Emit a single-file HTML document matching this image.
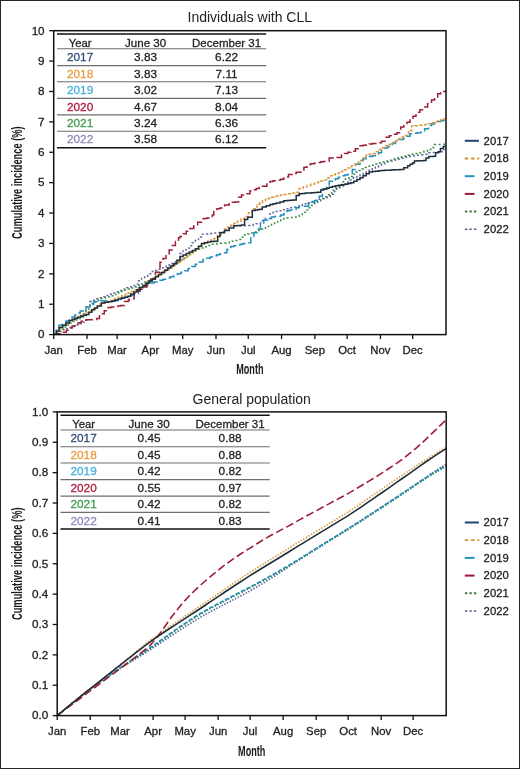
<!DOCTYPE html>
<html><head><meta charset="utf-8"><style>
html,body{margin:0;padding:0;background:#fff;}
body{width:520px;height:769px;overflow:hidden;}
svg{display:block;font-family:"Liberation Sans", sans-serif;will-change:transform;}
</style></head><body>
<svg width="520" height="769" viewBox="0 0 520 769">
<rect x="0" y="0" width="520" height="769" fill="#fff"/>
<clipPath id="clip0"><rect x="53.7" y="30.7" width="392.3" height="303.90000000000003"/></clipPath>
<clipPath id="clip381"><rect x="57.2" y="411.9" width="389.0" height="303.70000000000005"/></clipPath>
<text x="249.8" y="22.3" font-size="14" text-anchor="middle" fill="#222" class="nostroke">Individuals with CLL</text>
<g clip-path="url(#clip0)">
<path d="M53.70,334.60H56.97V333.00H60.23V331.40H63.50V329.80H66.60V328.67H69.70V327.53H72.80V326.40H75.87V325.03H78.93V323.67H82.00V322.30H86.00V307.00H89.80V301.60H92.70V300.20H95.60V298.80H98.50V297.80H101.40V296.80H105.20V295.40H109.05V294.20H112.90V293.00H115.80V291.80H118.70V290.60H121.60V289.65H124.50V288.70H126.90V287.70H129.30V286.70H132.65V285.50H136.00V284.30H138.50V280.80H141.57V278.48H144.65V276.15H147.73V273.82H150.80V271.50H153.85V270.38H156.90V269.25H159.95V268.12H163.00V267.00H166.10V265.45H169.20V263.90H172.30V262.35H175.40V260.80H180.00V253.50H183.07V250.93H186.13V248.37H189.20V245.80H192.30V242.70H195.40V239.60H198.45V236.90H201.50V234.20H204.60V233.97H207.70V233.73H210.80V233.50H213.87V233.00H216.93V232.50H220.00V232.00H223.60V229.93H227.20V227.87H230.80V225.80H234.37V225.80H237.93V225.80H241.50V225.80H244.33V225.67H247.17V225.53H250.00V225.40H253.07V224.60H256.13V223.80H259.20V223.00H262.30V220.75H265.40V218.50H270.00V213.10H273.07V212.33H276.13V211.57H279.20V210.80H282.80V209.77H286.40V208.73H290.00V207.70H293.10V206.95H296.20V206.20H299.27V205.40H302.33V204.60H305.40V203.80H308.45V202.65H311.50V201.50H314.60V200.35H317.70V199.20H320.77V198.43H323.83V197.67H326.90V196.90H330.17V194.18H333.45V191.45H336.73V188.72H340.00V186.00H343.38V183.96H346.76V181.92H350.14V179.88H353.52V177.84H356.90V175.80H360.00V174.27H363.10V172.73H366.20V171.20H369.25V170.00H372.30V168.80H375.40V166.90H378.50V165.00H381.57V163.97H384.63V162.93H387.70V161.90H390.77V160.95H393.85V160.00H396.93V159.05H400.00V158.10H403.20V157.47H406.40V156.83H409.60V156.20H412.80V155.70H416.00V155.20H419.20V154.70H423.05V154.25H426.90V153.80H428.80V152.80H432.18V152.43H435.55V152.05H438.93V151.68H442.30V151.30H443.30V149.40H446.00V148.60" fill="none" stroke="#62629e" stroke-width="1.5" stroke-dasharray="2 2.6"/>
<path d="M53.70,334.60H56.85V331.80H60.00V329.00H63.33V327.00H66.67V325.00H70.00V323.00H73.33V321.33H76.67V319.67H80.00V318.00H83.00V313.50H86.00V309.00H90.00V303.50H92.80V302.00H95.60V300.50H98.50V299.50H101.40V298.50H105.20V297.00H109.05V295.75H112.90V294.50H115.80V293.25H118.70V292.00H121.60V291.00H124.50V290.00H126.90V289.00H129.30V288.00H132.65V287.00H136.00V286.00H139.00V284.33H142.00V282.67H145.00V281.00H148.33V279.33H151.67V277.67H155.00V276.00H158.00V274.20H161.00V272.40H164.00V270.60H167.00V268.80H170.00V267.00H173.33V264.53H176.67V262.07H180.00V259.60H183.08V257.76H186.16V255.92H189.24V254.08H192.32V252.24H195.40V250.40H198.48V249.16H201.56V247.92H204.64V246.68H207.72V245.44H210.80V244.20H213.88V243.90H216.96V243.60H220.04V243.30H223.12V243.00H226.20V242.70H229.27V241.92H232.35V241.15H235.43V240.38H238.50V239.60H241.55V237.30H244.60V235.00H247.67V234.00H250.73V233.00H253.80V232.00H256.90V230.50H260.00V229.00H262.70V228.35H265.40V227.70H268.47V226.13H271.53V224.57H274.60V223.00H277.67V221.50H280.73V220.00H283.80V218.50H286.87V218.00H289.93V217.50H293.00V217.00H296.10V216.20H299.20V215.40H302.30V212.30H305.40V210.00H308.50V207.70H311.55V205.40H314.60V203.10H317.70V200.80H320.80V198.50H323.87V196.67H326.93V194.83H330.00V193.00H333.08V190.16H336.16V187.32H339.24V184.48H342.32V181.64H345.40V178.80H348.93V176.53H352.47V174.27H356.00V172.00H359.00V170.47H362.00V168.93H365.00V167.40H368.25V166.30H371.50V165.20H374.75V164.10H378.00V163.00H381.27V162.05H384.55V161.10H387.83V160.15H391.10V159.20H394.58V158.40H398.05V157.60H401.52V156.80H405.00V156.00H408.07V155.18H411.15V154.35H414.23V153.52H417.30V152.70H420.65V152.00H424.00V151.30H427.40V149.40H430.80V147.50H434.60V144.60H437.50V144.60H440.40V144.60H444.20V143.20H446.00V141.30" fill="none" stroke="#3c8a48" stroke-width="1.5" stroke-dasharray="2 2.6"/>
<path d="M53.70,334.60H56.35V329.90H59.00V325.20H62.43V323.10H65.87V321.00H69.30V318.90H72.00V316.97H74.70V315.03H77.40V313.10H80.27V311.03H83.13V308.97H86.00V306.90H89.80V304.50H93.70V301.60H97.50V300.70H100.73V300.87H103.97V301.03H107.20V301.20H110.05V300.95H112.90V300.70H117.70V298.80H121.10V298.05H124.50V297.30H127.35V296.35H130.20V295.40H134.10V293.50H138.50V287.70H141.57V286.52H144.65V285.35H147.73V284.18H150.80V283.00H153.85V282.05H156.90V281.10H159.95V280.15H163.00V279.20H166.60V277.93H170.20V276.67H173.80V275.40H177.40V273.87H181.00V272.33H184.60V270.80H188.20V268.60H191.80V266.40H195.40V264.20H199.20V261.90H203.00V259.60H206.60V258.33H210.20V257.07H213.80V255.80H216.87V254.77H219.93V253.73H223.00V252.70H226.90V249.60H230.80V246.50H233.87V245.73H236.93V244.97H240.00V244.20H243.10V243.45H246.20V242.70H250.80V236.50H253.90V232.75H257.00V229.00H260.40V224.50H263.80V220.00H267.65V218.50H271.50V217.00H274.60V216.60H277.70V216.20H280.75V215.00H283.80V213.80H286.90V210.80H289.95V210.00H293.00V209.20H296.10V207.70H299.20V206.20H302.30V206.20H305.40V206.20H308.50V203.80H311.55V202.30H314.60V200.80H319.20V196.20H322.30V189.20H326.90V186.20H329.20V181.20H332.30V180.00H335.40V178.80H338.45V177.30H341.50V175.80H344.60V175.00H347.70V174.20H352.30V169.60H355.40V164.20H360.00V160.40H363.10V158.85H366.20V157.30H369.25V156.55H372.30V155.80H375.40V154.25H378.50V152.70H381.50V149.60H384.60V148.05H387.70V146.50H392.30V143.50H395.40V141.55H398.50V139.60H403.00V138.50H406.50V136.15H410.00V133.80H413.60V133.30H417.20V132.80H420.80V132.30H424.65V128.85H428.50V125.40H431.57V124.10H434.63V122.80H437.70V121.50H440.75V120.75H443.80V120.00H446.00V118.00" fill="none" stroke="#1f8fbd" stroke-width="1.5" stroke-dasharray="8 3.5"/>
<path d="M53.70,334.60H56.85V331.05H60.00V327.50H63.33V325.17H66.67V322.83H70.00V320.50H73.33V318.83H76.67V317.17H80.00V315.50H83.33V314.00H86.67V312.50H90.00V311.00H93.33V308.67H96.67V306.33H100.00V304.00H103.00V302.88H106.00V301.75H109.00V300.62H112.00V299.50H115.25V298.25H118.50V297.00H121.75V295.75H125.00V294.50H128.00V293.00H131.00V291.50H134.00V290.00H137.00V288.50H140.00V287.00H143.33V284.67H146.67V282.33H150.00V280.00H153.33V277.83H156.67V275.67H160.00V273.50H163.00V271.60H166.00V269.70H169.00V267.80H172.00V265.90H175.00V264.00H178.00V261.90H181.00V259.80H184.00V257.70H187.00V255.60H190.00V253.50H192.88V251.12H195.75V248.75H198.62V246.38H201.50V244.00H204.57V242.62H207.65V241.25H210.73V239.88H213.80V238.50H217.40V235.33H221.00V232.17H224.60V229.00H227.67V227.17H230.73V225.33H233.80V223.50H237.40V221.17H241.00V218.83H244.60V216.50H248.45V212.65H252.30V208.80H257.00V204.20H259.80V202.53H262.60V200.87H265.40V199.20H268.47V198.20H271.53V197.20H274.60V196.20H277.68V195.60H280.75V195.00H283.82V194.40H286.90V193.80H290.75V193.05H294.60V192.30H299.20V188.50H303.05V186.95H306.90V185.40H310.75V184.20H314.60V183.00H317.67V182.00H320.73V181.00H323.80V180.00H326.50V177.90H329.20V175.80H332.30V174.77H335.40V173.73H338.50V172.70H341.57V171.17H344.63V169.63H347.70V168.10H351.55V165.80H355.40V163.50H358.45V160.80H361.50V158.10H366.20V155.00H369.25V154.25H372.30V153.50H375.40V151.55H378.50V149.60H381.55V147.70H384.60V145.80H387.70V144.25H390.80V142.70H393.85V141.15H396.90V139.60H399.73V138.20H402.57V136.80H405.40V135.40H408.45V130.70H411.50V126.00H414.98V125.65H418.45V125.30H421.92V124.95H425.40V124.60H428.47V123.65H431.55V122.70H434.62V121.75H437.70V120.80H440.47V119.87H443.23V118.93H446.00V118.00" fill="none" stroke="#dc9a3e" stroke-width="1.5" stroke-dasharray="3.2 1.8"/>
<path d="M53.70,334.60H56.97V333.80H60.23V333.00H63.50V332.20H66.38V330.15H69.25V328.10H72.12V326.05H75.00V324.00H78.10V322.67H81.20V321.33H84.30V320.00H87.00V319.83H89.70V319.67H92.40V319.50H96.60V318.50H99.50V313.70H104.30V310.80H108.10V307.40H111.45V306.90H114.80V306.40H117.70V305.95H120.60V305.50H124.50V301.60H128.30V300.20H129.30V298.80H134.10V293.50H137.07V291.33H140.03V289.17H143.00V287.00H146.90V283.10H150.80V279.20H155.40V272.30H160.00V262.30H163.00V258.45H166.00V254.60H169.15V250.00H172.30V245.40H175.40V241.55H178.50V237.70H180.00V236.50H183.10V233.85H186.20V231.20H190.00V228.50H193.80V225.80H197.65V222.30H201.50V218.80H204.25V218.40H207.00V218.00H209.65V216.50H212.30V215.00H213.80V209.60H216.90V208.80H220.00V208.00H224.60V205.00H229.20V202.70H232.30V202.30H235.40V201.90H238.50V197.30H241.50V195.00H244.25V194.40H247.00V193.80H250.00V190.80H253.10V189.65H256.20V188.50H259.25V187.35H262.30V186.20H266.90V182.30H269.95V181.55H273.00V180.80H276.90V180.00H280.80V179.20H283.80V176.90H288.50V174.60H292.35V173.45H296.20V172.30H300.80V170.00H303.90V167.30H307.00V164.60H310.80V163.80H314.60V163.00H317.70V162.40H320.80V161.80H323.50V161.50H326.20V161.20H329.20V158.10H333.05V157.85H336.90V157.60H341.50V155.00H344.60V153.50H347.70V152.35H350.80V151.20H355.40V148.80H360.00V145.80H363.10V145.25H366.20V144.70H369.25V144.10H372.30V143.50H376.90V142.70H381.50V141.20H386.20V137.30H389.25V135.75H392.30V134.20H396.90V132.70H400.80V127.00H403.87V124.67H406.93V122.33H410.00V120.00H413.00V116.15H416.00V112.30H419.90V109.65H423.80V107.00H427.65V103.50H431.50V100.00H434.60V96.90H437.70V93.80H440.75V92.65H443.80V91.50H446.00V90.20" fill="none" stroke="#9e1f37" stroke-width="1.5" stroke-dasharray="8 3.5"/>
<path d="M53.70,334.60H56.35V331.05H59.00V327.50H62.43V325.20H65.87V322.90H69.30V320.60H72.17V319.45H75.05V318.30H77.92V317.15H80.80V316.00H83.40V315.30H86.00V314.60H88.90V312.20H91.80V309.80H94.65V307.90H97.50V306.00H101.40V303.00H104.93V302.33H108.47V301.67H112.00V301.00H115.14V300.04H118.28V299.08H121.42V298.12H124.56V297.16H127.70V296.20H130.76V294.04H133.82V291.88H136.88V289.72H139.94V287.56H143.00V285.40H146.10V283.24H149.20V281.08H152.30V278.92H155.40V276.76H158.50V274.60H161.56V272.44H164.62V270.28H167.68V268.12H170.74V265.96H173.80V263.80H176.90V260.15H180.00V256.50H183.07V255.00H186.13V253.50H189.20V252.00H192.30V250.40H195.40V248.80H198.45V246.15H201.50V243.50H204.60V242.75H207.70V242.00H210.75V241.60H213.80V241.20H217.70V236.50H220.00V232.70H224.60V230.40H229.20V228.00H233.80V225.80H237.65V225.40H241.50V225.00H244.60V219.60H247.70V217.30H252.30V210.40H255.13V210.00H257.97V209.60H260.80V209.20H262.30V206.90H266.15V205.75H270.00V204.60H273.10V203.85H276.20V203.10H280.00V201.95H283.80V200.80H286.87V200.53H289.93V200.27H293.00V200.00H296.20V195.40H299.20V193.80H302.30V193.45H305.40V193.10H308.47V192.90H311.55V192.70H314.62V192.50H317.70V192.30H320.80V190.00H323.60V189.10H326.40V188.20H329.20V187.30H332.30V186.55H335.40V185.80H338.47V185.27H341.53V184.73H344.60V184.20H347.70V183.45H350.80V182.70H353.85V181.15H356.90V179.60H360.00V177.70H363.10V175.80H366.15V173.85H369.20V171.90H372.27V171.53H375.35V171.15H378.43V170.78H381.50V170.40H384.58V170.27H387.67V170.13H390.75V170.00H393.83V169.87H396.92V169.73H400.00V169.60H403.80V167.70H407.70V165.80H410.10V164.35H412.50V162.90H414.40V161.00H417.60V160.83H420.80V160.67H424.00V160.50H426.00V158.10H428.80V156.60H431.25V156.40H433.70V156.20H435.60V152.80H438.50V151.80H440.40V148.50H443.30V146.50H446.00V145.30" fill="none" stroke="#1d2f3c" stroke-width="1.5" />
</g>
<rect x="53.70" y="30.70" width="392.30" height="303.90" fill="none" stroke="#111" stroke-width="1.5"/>
<line x1="49.20" y1="334.60" x2="53.70" y2="334.60" stroke="#111" stroke-width="1.3"/>
<text stroke="#222" stroke-width="0.28" transform="translate(44.60,338.40) scale(1.08,1)" font-size="10.8" text-anchor="end" fill="#222">0</text>
<line x1="49.20" y1="304.21" x2="53.70" y2="304.21" stroke="#111" stroke-width="1.3"/>
<text stroke="#222" stroke-width="0.28" transform="translate(44.60,308.01) scale(1.08,1)" font-size="10.8" text-anchor="end" fill="#222">1</text>
<line x1="49.20" y1="273.82" x2="53.70" y2="273.82" stroke="#111" stroke-width="1.3"/>
<text stroke="#222" stroke-width="0.28" transform="translate(44.60,277.62) scale(1.08,1)" font-size="10.8" text-anchor="end" fill="#222">2</text>
<line x1="49.20" y1="243.43" x2="53.70" y2="243.43" stroke="#111" stroke-width="1.3"/>
<text stroke="#222" stroke-width="0.28" transform="translate(44.60,247.23) scale(1.08,1)" font-size="10.8" text-anchor="end" fill="#222">3</text>
<line x1="49.20" y1="213.04" x2="53.70" y2="213.04" stroke="#111" stroke-width="1.3"/>
<text stroke="#222" stroke-width="0.28" transform="translate(44.60,216.84) scale(1.08,1)" font-size="10.8" text-anchor="end" fill="#222">4</text>
<line x1="49.20" y1="182.65" x2="53.70" y2="182.65" stroke="#111" stroke-width="1.3"/>
<text stroke="#222" stroke-width="0.28" transform="translate(44.60,186.45) scale(1.08,1)" font-size="10.8" text-anchor="end" fill="#222">5</text>
<line x1="49.20" y1="152.26" x2="53.70" y2="152.26" stroke="#111" stroke-width="1.3"/>
<text stroke="#222" stroke-width="0.28" transform="translate(44.60,156.06) scale(1.08,1)" font-size="10.8" text-anchor="end" fill="#222">6</text>
<line x1="49.20" y1="121.87" x2="53.70" y2="121.87" stroke="#111" stroke-width="1.3"/>
<text stroke="#222" stroke-width="0.28" transform="translate(44.60,125.67) scale(1.08,1)" font-size="10.8" text-anchor="end" fill="#222">7</text>
<line x1="49.20" y1="91.48" x2="53.70" y2="91.48" stroke="#111" stroke-width="1.3"/>
<text stroke="#222" stroke-width="0.28" transform="translate(44.60,95.28) scale(1.08,1)" font-size="10.8" text-anchor="end" fill="#222">8</text>
<line x1="49.20" y1="61.09" x2="53.70" y2="61.09" stroke="#111" stroke-width="1.3"/>
<text stroke="#222" stroke-width="0.28" transform="translate(44.60,64.89) scale(1.08,1)" font-size="10.8" text-anchor="end" fill="#222">9</text>
<line x1="49.20" y1="30.70" x2="53.70" y2="30.70" stroke="#111" stroke-width="1.3"/>
<text stroke="#222" stroke-width="0.28" transform="translate(44.60,34.50) scale(1.08,1)" font-size="10.8" text-anchor="end" fill="#222">10</text>
<line x1="53.70" y1="334.60" x2="53.70" y2="339.10" stroke="#111" stroke-width="1.3"/>
<text stroke="#222" stroke-width="0.28" transform="translate(53.70,353.90) scale(1.07,1)" font-size="10.6" text-anchor="middle" fill="#222">Jan</text>
<line x1="87.02" y1="334.60" x2="87.02" y2="339.10" stroke="#111" stroke-width="1.3"/>
<text stroke="#222" stroke-width="0.28" transform="translate(87.02,353.90) scale(1.07,1)" font-size="10.6" text-anchor="middle" fill="#222">Feb</text>
<line x1="117.11" y1="334.60" x2="117.11" y2="339.10" stroke="#111" stroke-width="1.3"/>
<text stroke="#222" stroke-width="0.28" transform="translate(117.11,353.90) scale(1.07,1)" font-size="10.6" text-anchor="middle" fill="#222">Mar</text>
<line x1="150.43" y1="334.60" x2="150.43" y2="339.10" stroke="#111" stroke-width="1.3"/>
<text stroke="#222" stroke-width="0.28" transform="translate(150.43,353.90) scale(1.07,1)" font-size="10.6" text-anchor="middle" fill="#222">Apr</text>
<line x1="182.68" y1="334.60" x2="182.68" y2="339.10" stroke="#111" stroke-width="1.3"/>
<text stroke="#222" stroke-width="0.28" transform="translate(182.68,353.90) scale(1.07,1)" font-size="10.6" text-anchor="middle" fill="#222">May</text>
<line x1="215.99" y1="334.60" x2="215.99" y2="339.10" stroke="#111" stroke-width="1.3"/>
<text stroke="#222" stroke-width="0.28" transform="translate(215.99,353.90) scale(1.07,1)" font-size="10.6" text-anchor="middle" fill="#222">Jun</text>
<line x1="248.24" y1="334.60" x2="248.24" y2="339.10" stroke="#111" stroke-width="1.3"/>
<text stroke="#222" stroke-width="0.28" transform="translate(248.24,353.90) scale(1.07,1)" font-size="10.6" text-anchor="middle" fill="#222">Jul</text>
<line x1="281.56" y1="334.60" x2="281.56" y2="339.10" stroke="#111" stroke-width="1.3"/>
<text stroke="#222" stroke-width="0.28" transform="translate(281.56,353.90) scale(1.07,1)" font-size="10.6" text-anchor="middle" fill="#222">Aug</text>
<line x1="314.88" y1="334.60" x2="314.88" y2="339.10" stroke="#111" stroke-width="1.3"/>
<text stroke="#222" stroke-width="0.28" transform="translate(314.88,353.90) scale(1.07,1)" font-size="10.6" text-anchor="middle" fill="#222">Sep</text>
<line x1="347.12" y1="334.60" x2="347.12" y2="339.10" stroke="#111" stroke-width="1.3"/>
<text stroke="#222" stroke-width="0.28" transform="translate(347.12,353.90) scale(1.07,1)" font-size="10.6" text-anchor="middle" fill="#222">Oct</text>
<line x1="380.44" y1="334.60" x2="380.44" y2="339.10" stroke="#111" stroke-width="1.3"/>
<text stroke="#222" stroke-width="0.28" transform="translate(380.44,353.90) scale(1.07,1)" font-size="10.6" text-anchor="middle" fill="#222">Nov</text>
<line x1="412.68" y1="334.60" x2="412.68" y2="339.10" stroke="#111" stroke-width="1.3"/>
<text stroke="#222" stroke-width="0.28" transform="translate(412.68,353.90) scale(1.07,1)" font-size="10.6" text-anchor="middle" fill="#222">Dec</text>
<text transform="translate(249.85,374.40) scale(0.65,1)" font-size="14" font-weight="bold" text-anchor="middle" fill="#1a1a1a">Month</text>
<text transform="translate(22.4,182.65) rotate(-90) scale(0.664,1)" font-size="14" font-weight="bold" text-anchor="middle" fill="#1a1a1a">Cumulative incidence (%)</text>
<line x1="57.00" y1="34.00" x2="266.20" y2="34.00" stroke="#111" stroke-width="1.5"/>
<line x1="57.00" y1="48.80" x2="266.20" y2="48.80" stroke="#6e6e6e" stroke-width="1.1"/>
<text stroke="#222" stroke-width="0.28" x="80.10" y="46.60" font-size="11.3" text-anchor="middle" fill="#222">Year</text>
<text stroke="#222" stroke-width="0.28" x="145.60" y="46.60" font-size="11.6" text-anchor="middle" fill="#222">June 30</text>
<text stroke="#222" stroke-width="0.28" x="226.60" y="46.60" font-size="11.5" text-anchor="middle" fill="#222">December 31</text>
<text stroke="#2e4d74" stroke-width="0.28" x="80.10" y="61.00" font-size="11.8" text-anchor="middle" fill="#2e4d74">2017</text>
<text stroke="#222" stroke-width="0.28" x="145.60" y="61.00" font-size="11.8" text-anchor="middle" fill="#222">3.83</text>
<text stroke="#222" stroke-width="0.28" x="226.60" y="61.00" font-size="11.8" text-anchor="middle" fill="#222">6.22</text>
<line x1="57.00" y1="65.60" x2="266.20" y2="65.60" stroke="#6e6e6e" stroke-width="1.1"/>
<text stroke="#e99a3c" stroke-width="0.28" x="80.10" y="77.80" font-size="11.8" text-anchor="middle" fill="#e99a3c">2018</text>
<text stroke="#222" stroke-width="0.28" x="145.60" y="77.80" font-size="11.8" text-anchor="middle" fill="#222">3.83</text>
<text stroke="#222" stroke-width="0.28" x="226.60" y="77.80" font-size="11.8" text-anchor="middle" fill="#222">7.11</text>
<line x1="57.00" y1="81.80" x2="266.20" y2="81.80" stroke="#6e6e6e" stroke-width="1.1"/>
<text stroke="#45b0da" stroke-width="0.28" x="80.10" y="94.00" font-size="11.8" text-anchor="middle" fill="#45b0da">2019</text>
<text stroke="#222" stroke-width="0.28" x="145.60" y="94.00" font-size="11.8" text-anchor="middle" fill="#222">3.02</text>
<text stroke="#222" stroke-width="0.28" x="226.60" y="94.00" font-size="11.8" text-anchor="middle" fill="#222">7.13</text>
<line x1="57.00" y1="98.40" x2="266.20" y2="98.40" stroke="#6e6e6e" stroke-width="1.1"/>
<text stroke="#b3173c" stroke-width="0.28" x="80.10" y="110.60" font-size="11.8" text-anchor="middle" fill="#b3173c">2020</text>
<text stroke="#222" stroke-width="0.28" x="145.60" y="110.60" font-size="11.8" text-anchor="middle" fill="#222">4.67</text>
<text stroke="#222" stroke-width="0.28" x="226.60" y="110.60" font-size="11.8" text-anchor="middle" fill="#222">8.04</text>
<line x1="57.00" y1="114.90" x2="266.20" y2="114.90" stroke="#6e6e6e" stroke-width="1.1"/>
<text stroke="#3e9b4b" stroke-width="0.28" x="80.10" y="127.10" font-size="11.8" text-anchor="middle" fill="#3e9b4b">2021</text>
<text stroke="#222" stroke-width="0.28" x="145.60" y="127.10" font-size="11.8" text-anchor="middle" fill="#222">3.24</text>
<text stroke="#222" stroke-width="0.28" x="226.60" y="127.10" font-size="11.8" text-anchor="middle" fill="#222">6.36</text>
<line x1="57.00" y1="131.20" x2="266.20" y2="131.20" stroke="#6e6e6e" stroke-width="1.1"/>
<text stroke="#8c8cb9" stroke-width="0.28" x="80.10" y="143.40" font-size="11.8" text-anchor="middle" fill="#8c8cb9">2022</text>
<text stroke="#222" stroke-width="0.28" x="145.60" y="143.40" font-size="11.8" text-anchor="middle" fill="#222">3.58</text>
<text stroke="#222" stroke-width="0.28" x="226.60" y="143.40" font-size="11.8" text-anchor="middle" fill="#222">6.12</text>
<line x1="57.00" y1="147.70" x2="266.20" y2="147.70" stroke="#111" stroke-width="1.5"/>
<line x1="464.8" y1="140.80" x2="478.9" y2="140.80" stroke="#1f4470" stroke-width="2.0" />
<text stroke="#222" stroke-width="0.28" x="483.6" y="144.60" font-size="11.3" fill="#222">2017</text>
<line x1="464.7" y1="158.50" x2="479.3" y2="158.50" stroke="#d1952f" stroke-width="1.8" stroke-dasharray="3.5 2.8"/>
<text stroke="#222" stroke-width="0.28" x="483.6" y="162.30" font-size="11.3" fill="#222">2018</text>
<line x1="464.8" y1="176.20" x2="474.5" y2="176.20" stroke="#1f93b8" stroke-width="2.0" />
<text stroke="#222" stroke-width="0.28" x="483.6" y="180.00" font-size="11.3" fill="#222">2019</text>
<line x1="464.8" y1="193.90" x2="474.5" y2="193.90" stroke="#9a1634" stroke-width="2.0" />
<text stroke="#222" stroke-width="0.28" x="483.6" y="197.70" font-size="11.3" fill="#222">2020</text>
<line x1="464.9" y1="211.60" x2="477" y2="211.60" stroke="#3f7a4a" stroke-width="2.0" stroke-dasharray="2.4 2.1"/>
<text stroke="#222" stroke-width="0.28" x="483.6" y="215.40" font-size="11.3" fill="#222">2021</text>
<line x1="464.9" y1="229.30" x2="477" y2="229.30" stroke="#5a5a8a" stroke-width="1.6" stroke-dasharray="2.4 2.1"/>
<text stroke="#222" stroke-width="0.28" x="483.6" y="233.10" font-size="11.3" fill="#222">2022</text>
<text x="251.7" y="403.5" font-size="14" text-anchor="middle" fill="#222" class="nostroke">General population</text>
<g clip-path="url(#clip381)">
<path d="M57.20,715.60 L62.12,711.55 L67.05,707.50 L71.97,703.49 L76.90,699.53 L81.82,695.62 L86.74,691.75 L91.67,687.98 L96.59,684.33 L101.52,680.80 L106.44,677.40 L111.36,674.11 L116.29,670.92 L121.21,667.77 L126.14,664.66 L131.06,661.58 L135.98,658.55 L140.91,655.54 L145.83,652.46 L150.76,649.33 L155.68,646.14 L160.61,642.89 L165.53,639.60 L170.45,636.33 L175.38,633.10 L180.30,629.90 L185.23,626.73 L190.15,623.58 L195.07,620.55 L200.00,617.61 L204.92,614.79 L209.85,612.06 L214.77,609.44 L219.69,606.84 L224.62,604.26 L229.54,601.70 L234.47,599.16 L239.39,596.63 L244.31,594.03 L249.24,591.34 L254.16,588.56 L259.09,585.68 L264.01,582.71 L268.93,579.67 L273.86,576.57 L278.78,573.41 L283.71,570.17 L288.63,566.88 L293.55,563.58 L298.48,560.31 L303.40,557.06 L308.33,553.83 L313.25,550.63 L318.17,547.45 L323.10,544.31 L328.02,541.20 L332.95,538.12 L337.87,535.07 L342.79,532.02 L347.72,528.95 L352.64,525.84 L357.57,522.71 L362.49,519.56 L367.42,516.38 L372.34,513.18 L377.26,509.97 L382.19,506.75 L387.11,503.51 L392.04,500.25 L396.96,496.98 L401.88,493.70 L406.81,490.40 L411.73,487.07 L416.66,483.70 L421.58,480.31 L426.50,476.88 L431.43,473.53 L436.35,470.25 L441.28,466.98 L446.20,463.99" fill="none" stroke="#62629e" stroke-width="1.6" stroke-linejoin="round" stroke-dasharray="1.5 1.5"/>
<path d="M57.20,715.60 L62.12,711.55 L67.05,707.50 L71.97,703.49 L76.90,699.53 L81.82,695.62 L86.74,691.75 L91.67,687.98 L96.59,684.33 L101.52,680.81 L106.44,677.41 L111.36,674.14 L116.29,670.94 L121.21,667.74 L126.14,664.52 L131.06,661.29 L135.98,658.05 L140.91,654.79 L145.83,651.47 L150.76,648.10 L155.68,644.66 L160.61,641.16 L165.53,637.62 L170.45,634.13 L175.38,630.69 L180.30,627.31 L185.23,623.97 L190.15,620.68 L195.07,617.52 L200.00,614.50 L204.92,611.62 L209.85,608.86 L214.77,606.24 L219.69,603.64 L224.62,601.06 L229.54,598.50 L234.47,595.96 L239.39,593.43 L244.31,590.88 L249.24,588.29 L254.16,585.67 L259.09,583.02 L264.01,580.32 L268.93,577.58 L273.86,574.80 L278.78,571.96 L283.71,569.06 L288.63,566.12 L293.55,563.15 L298.48,560.17 L303.40,557.16 L308.33,554.13 L313.25,551.08 L318.17,548.03 L323.10,544.99 L328.02,541.94 L332.95,538.91 L337.87,535.87 L342.79,532.82 L347.72,529.75 L352.64,526.64 L357.57,523.51 L362.49,520.36 L367.42,517.18 L372.34,513.98 L377.26,510.77 L382.19,507.55 L387.11,504.31 L392.04,501.05 L396.96,497.78 L401.88,494.50 L406.81,491.20 L411.73,487.89 L416.66,484.60 L421.58,481.33 L426.50,478.10 L431.43,474.99 L436.35,471.99 L441.28,469.00 L446.20,466.30" fill="none" stroke="#3c8a48" stroke-width="1.6" stroke-linejoin="round" stroke-dasharray="1.5 1.5"/>
<path d="M57.20,715.60 L62.12,711.55 L67.05,707.50 L71.97,703.49 L76.90,699.53 L81.82,695.62 L86.74,691.75 L91.67,687.97 L96.59,684.28 L101.52,680.69 L106.44,677.18 L111.36,673.77 L116.29,670.43 L121.21,667.10 L126.14,663.80 L131.06,660.52 L135.98,657.25 L140.91,653.99 L145.83,650.67 L150.76,647.30 L155.68,643.86 L160.61,640.36 L165.53,636.82 L170.45,633.33 L175.38,629.89 L180.30,626.51 L185.23,623.17 L190.15,619.88 L195.07,616.72 L200.00,613.70 L204.92,610.82 L209.85,608.06 L214.77,605.44 L219.69,602.84 L224.62,600.26 L229.54,597.70 L234.47,595.16 L239.39,592.63 L244.31,590.08 L249.24,587.49 L254.16,584.87 L259.09,582.22 L264.01,579.52 L268.93,576.78 L273.86,574.00 L278.78,571.16 L283.71,568.26 L288.63,565.32 L293.55,562.35 L298.48,559.37 L303.40,556.36 L308.33,553.33 L313.25,550.28 L318.17,547.23 L323.10,544.19 L328.02,541.14 L332.95,538.11 L337.87,535.07 L342.79,532.02 L347.72,528.95 L352.64,525.84 L357.57,522.71 L362.49,519.56 L367.42,516.38 L372.34,513.18 L377.26,509.97 L382.19,506.75 L387.11,503.51 L392.04,500.25 L396.96,496.98 L401.88,493.70 L406.81,490.40 L411.73,487.09 L416.66,483.80 L421.58,480.53 L426.50,477.30 L431.43,474.19 L436.35,471.19 L441.28,468.20 L446.20,465.50" fill="none" stroke="#1f8fbd" stroke-width="1.6" stroke-linejoin="round" stroke-dasharray="4 2"/>
<path d="M57.20,715.60 L62.12,711.50 L67.05,707.41 L71.97,703.35 L76.90,699.33 L81.82,695.36 L86.74,691.43 L91.67,687.54 L96.59,683.64 L101.52,679.70 L106.44,675.74 L111.36,671.75 L116.29,667.74 L121.21,663.73 L126.14,659.72 L131.06,655.72 L135.98,651.71 L140.91,647.72 L145.83,643.85 L150.76,640.11 L155.68,636.48 L160.61,632.98 L165.53,629.59 L170.45,626.21 L175.38,622.84 L180.30,619.49 L185.23,616.16 L190.15,612.84 L195.07,609.51 L200.00,606.17 L204.92,602.82 L209.85,599.46 L214.77,596.09 L219.69,592.73 L224.62,589.38 L229.54,586.05 L234.47,582.72 L239.39,579.41 L244.31,576.14 L249.24,572.93 L254.16,569.77 L259.09,566.66 L264.01,563.60 L268.93,560.55 L273.86,557.50 L278.78,554.45 L283.71,551.40 L288.63,548.35 L293.55,545.30 L298.48,542.27 L303.40,539.25 L308.33,536.24 L313.25,533.24 L318.17,530.25 L323.10,527.26 L328.02,524.28 L332.95,521.30 L337.87,518.33 L342.79,515.31 L347.72,512.21 L352.64,509.04 L357.57,505.79 L362.49,502.46 L367.42,499.08 L372.34,495.70 L377.26,492.30 L382.19,488.89 L387.11,485.47 L392.04,482.06 L396.96,478.70 L401.88,475.37 L406.81,472.10 L411.73,468.87 L416.66,465.68 L421.58,462.50 L426.50,459.34 L431.43,456.27 L436.35,453.27 L441.28,450.28 L446.20,447.51" fill="none" stroke="#dc9a3e" stroke-width="1.6" stroke-linejoin="round" stroke-dasharray="1.5 1.5"/>
<path d="M57.20,715.60 L78.00,700.00 L100.00,683.50 L125.00,665.00 L146.00,649.00 L150.00,645.50 L154.29,640.54 L158.59,635.28 L162.88,629.36 L167.17,623.19 L171.46,617.08 L175.76,611.47 L180.05,606.13 L184.34,601.17 L188.63,596.52 L192.93,592.22 L197.22,588.10 L201.51,584.23 L205.81,580.51 L210.10,576.89 L214.39,573.32 L218.68,569.85 L222.98,566.46 L227.27,563.18 L231.56,560.05 L235.86,557.08 L240.15,554.27 L244.44,551.57 L248.73,548.92 L253.03,546.23 L257.32,543.49 L261.61,540.77 L265.90,538.19 L270.20,535.76 L274.49,533.45 L278.78,531.16 L283.08,528.91 L287.37,526.61 L291.66,524.24 L295.95,521.81 L300.25,519.41 L304.54,517.05 L308.83,514.73 L313.12,512.41 L317.42,510.09 L321.71,507.78 L326.00,505.46 L330.30,503.14 L334.59,500.82 L338.88,498.50 L343.17,496.19 L347.47,493.83 L351.76,491.39 L356.05,488.87 L360.34,486.29 L364.64,483.72 L368.93,481.14 L373.22,478.52 L377.52,475.83 L381.81,473.06 L386.10,470.26 L390.39,467.46 L394.69,464.66 L398.98,461.69 L403.27,458.50 L407.57,455.07 L411.86,451.60 L416.15,448.09 L420.44,444.37 L424.74,440.41 L429.03,436.25 L433.32,432.10 L437.61,427.98 L441.91,423.88 L446.20,419.80" fill="none" stroke="#9e1f37" stroke-width="1.6" stroke-linejoin="round" stroke-dasharray="8 3.5"/>
<path d="M57.20,715.60 L62.12,711.50 L67.05,707.41 L71.97,703.35 L76.90,699.33 L81.82,695.36 L86.74,691.43 L91.67,687.55 L96.59,683.68 L101.52,679.80 L106.44,675.92 L111.36,672.04 L116.29,668.16 L121.21,664.28 L126.14,660.40 L131.06,656.52 L135.98,652.64 L140.91,648.78 L145.83,645.04 L150.76,641.43 L155.68,637.93 L160.61,634.56 L165.53,631.29 L170.45,628.04 L175.38,624.80 L180.30,621.58 L185.23,618.37 L190.15,615.18 L195.07,611.97 L200.00,608.73 L204.92,605.47 L209.85,602.18 L214.77,598.87 L219.69,595.58 L224.62,592.29 L229.54,589.02 L234.47,585.75 L239.39,582.50 L244.31,579.30 L249.24,576.14 L254.16,573.04 L259.09,570.00 L264.01,567.00 L268.93,564.01 L273.86,561.02 L278.78,558.01 L283.71,554.98 L288.63,551.95 L293.55,548.90 L298.48,545.87 L303.40,542.85 L308.33,539.84 L313.25,536.84 L318.17,533.85 L323.10,530.86 L328.02,527.88 L332.95,524.90 L337.87,521.93 L342.79,518.91 L347.72,515.81 L352.64,512.64 L357.57,509.39 L362.49,506.06 L367.42,502.68 L372.34,499.30 L377.26,495.90 L382.19,492.49 L387.11,489.07 L392.04,485.64 L396.96,482.20 L401.88,478.75 L406.81,475.30 L411.73,471.83 L416.66,468.38 L421.58,464.93 L426.50,461.50 L431.43,458.16 L436.35,454.90 L441.28,451.64 L446.20,448.60" fill="none" stroke="#1d2f3c" stroke-width="1.6" stroke-linejoin="round" />
</g>
<rect x="57.20" y="411.90" width="389.00" height="303.70" fill="none" stroke="#111" stroke-width="1.5"/>
<line x1="52.70" y1="715.60" x2="57.20" y2="715.60" stroke="#111" stroke-width="1.3"/>
<text stroke="#222" stroke-width="0.28" transform="translate(48.30,719.40) scale(1.08,1)" font-size="10.8" text-anchor="end" fill="#222">0.0</text>
<line x1="52.70" y1="685.23" x2="57.20" y2="685.23" stroke="#111" stroke-width="1.3"/>
<text stroke="#222" stroke-width="0.28" transform="translate(48.30,689.03) scale(1.08,1)" font-size="10.8" text-anchor="end" fill="#222">0.1</text>
<line x1="52.70" y1="654.86" x2="57.20" y2="654.86" stroke="#111" stroke-width="1.3"/>
<text stroke="#222" stroke-width="0.28" transform="translate(48.30,658.66) scale(1.08,1)" font-size="10.8" text-anchor="end" fill="#222">0.2</text>
<line x1="52.70" y1="624.49" x2="57.20" y2="624.49" stroke="#111" stroke-width="1.3"/>
<text stroke="#222" stroke-width="0.28" transform="translate(48.30,628.29) scale(1.08,1)" font-size="10.8" text-anchor="end" fill="#222">0.3</text>
<line x1="52.70" y1="594.12" x2="57.20" y2="594.12" stroke="#111" stroke-width="1.3"/>
<text stroke="#222" stroke-width="0.28" transform="translate(48.30,597.92) scale(1.08,1)" font-size="10.8" text-anchor="end" fill="#222">0.4</text>
<line x1="52.70" y1="563.75" x2="57.20" y2="563.75" stroke="#111" stroke-width="1.3"/>
<text stroke="#222" stroke-width="0.28" transform="translate(48.30,567.55) scale(1.08,1)" font-size="10.8" text-anchor="end" fill="#222">0.5</text>
<line x1="52.70" y1="533.38" x2="57.20" y2="533.38" stroke="#111" stroke-width="1.3"/>
<text stroke="#222" stroke-width="0.28" transform="translate(48.30,537.18) scale(1.08,1)" font-size="10.8" text-anchor="end" fill="#222">0.6</text>
<line x1="52.70" y1="503.01" x2="57.20" y2="503.01" stroke="#111" stroke-width="1.3"/>
<text stroke="#222" stroke-width="0.28" transform="translate(48.30,506.81) scale(1.08,1)" font-size="10.8" text-anchor="end" fill="#222">0.7</text>
<line x1="52.70" y1="472.64" x2="57.20" y2="472.64" stroke="#111" stroke-width="1.3"/>
<text stroke="#222" stroke-width="0.28" transform="translate(48.30,476.44) scale(1.08,1)" font-size="10.8" text-anchor="end" fill="#222">0.8</text>
<line x1="52.70" y1="442.27" x2="57.20" y2="442.27" stroke="#111" stroke-width="1.3"/>
<text stroke="#222" stroke-width="0.28" transform="translate(48.30,446.07) scale(1.08,1)" font-size="10.8" text-anchor="end" fill="#222">0.9</text>
<line x1="52.70" y1="411.90" x2="57.20" y2="411.90" stroke="#111" stroke-width="1.3"/>
<text stroke="#222" stroke-width="0.28" transform="translate(48.30,415.70) scale(1.08,1)" font-size="10.8" text-anchor="end" fill="#222">1.0</text>
<line x1="57.20" y1="715.60" x2="57.20" y2="720.10" stroke="#111" stroke-width="1.3"/>
<text stroke="#222" stroke-width="0.28" transform="translate(57.20,735.10) scale(1.07,1)" font-size="10.6" text-anchor="middle" fill="#222">Jan</text>
<line x1="90.24" y1="715.60" x2="90.24" y2="720.10" stroke="#111" stroke-width="1.3"/>
<text stroke="#222" stroke-width="0.28" transform="translate(90.24,735.10) scale(1.07,1)" font-size="10.6" text-anchor="middle" fill="#222">Feb</text>
<line x1="120.08" y1="715.60" x2="120.08" y2="720.10" stroke="#111" stroke-width="1.3"/>
<text stroke="#222" stroke-width="0.28" transform="translate(120.08,735.10) scale(1.07,1)" font-size="10.6" text-anchor="middle" fill="#222">Mar</text>
<line x1="153.12" y1="715.60" x2="153.12" y2="720.10" stroke="#111" stroke-width="1.3"/>
<text stroke="#222" stroke-width="0.28" transform="translate(153.12,735.10) scale(1.07,1)" font-size="10.6" text-anchor="middle" fill="#222">Apr</text>
<line x1="185.09" y1="715.60" x2="185.09" y2="720.10" stroke="#111" stroke-width="1.3"/>
<text stroke="#222" stroke-width="0.28" transform="translate(185.09,735.10) scale(1.07,1)" font-size="10.6" text-anchor="middle" fill="#222">May</text>
<line x1="218.13" y1="715.60" x2="218.13" y2="720.10" stroke="#111" stroke-width="1.3"/>
<text stroke="#222" stroke-width="0.28" transform="translate(218.13,735.10) scale(1.07,1)" font-size="10.6" text-anchor="middle" fill="#222">Jun</text>
<line x1="250.10" y1="715.60" x2="250.10" y2="720.10" stroke="#111" stroke-width="1.3"/>
<text stroke="#222" stroke-width="0.28" transform="translate(250.10,735.10) scale(1.07,1)" font-size="10.6" text-anchor="middle" fill="#222">Jul</text>
<line x1="283.14" y1="715.60" x2="283.14" y2="720.10" stroke="#111" stroke-width="1.3"/>
<text stroke="#222" stroke-width="0.28" transform="translate(283.14,735.10) scale(1.07,1)" font-size="10.6" text-anchor="middle" fill="#222">Aug</text>
<line x1="316.18" y1="715.60" x2="316.18" y2="720.10" stroke="#111" stroke-width="1.3"/>
<text stroke="#222" stroke-width="0.28" transform="translate(316.18,735.10) scale(1.07,1)" font-size="10.6" text-anchor="middle" fill="#222">Sep</text>
<line x1="348.15" y1="715.60" x2="348.15" y2="720.10" stroke="#111" stroke-width="1.3"/>
<text stroke="#222" stroke-width="0.28" transform="translate(348.15,735.10) scale(1.07,1)" font-size="10.6" text-anchor="middle" fill="#222">Oct</text>
<line x1="381.19" y1="715.60" x2="381.19" y2="720.10" stroke="#111" stroke-width="1.3"/>
<text stroke="#222" stroke-width="0.28" transform="translate(381.19,735.10) scale(1.07,1)" font-size="10.6" text-anchor="middle" fill="#222">Nov</text>
<line x1="413.16" y1="715.60" x2="413.16" y2="720.10" stroke="#111" stroke-width="1.3"/>
<text stroke="#222" stroke-width="0.28" transform="translate(413.16,735.10) scale(1.07,1)" font-size="10.6" text-anchor="middle" fill="#222">Dec</text>
<text transform="translate(251.70,755.60) scale(0.65,1)" font-size="14" font-weight="bold" text-anchor="middle" fill="#1a1a1a">Month</text>
<text transform="translate(22.4,563.75) rotate(-90) scale(0.664,1)" font-size="14" font-weight="bold" text-anchor="middle" fill="#1a1a1a">Cumulative incidence (%)</text>
<line x1="60.50" y1="415.20" x2="269.70" y2="415.20" stroke="#111" stroke-width="1.5"/>
<line x1="60.50" y1="430.00" x2="269.70" y2="430.00" stroke="#6e6e6e" stroke-width="1.1"/>
<text stroke="#222" stroke-width="0.28" x="83.60" y="427.80" font-size="11.3" text-anchor="middle" fill="#222">Year</text>
<text stroke="#222" stroke-width="0.28" x="149.10" y="427.80" font-size="11.6" text-anchor="middle" fill="#222">June 30</text>
<text stroke="#222" stroke-width="0.28" x="230.10" y="427.80" font-size="11.5" text-anchor="middle" fill="#222">December 31</text>
<text stroke="#2e4d74" stroke-width="0.28" x="83.60" y="442.20" font-size="11.8" text-anchor="middle" fill="#2e4d74">2017</text>
<text stroke="#222" stroke-width="0.28" x="149.10" y="442.20" font-size="11.8" text-anchor="middle" fill="#222">0.45</text>
<text stroke="#222" stroke-width="0.28" x="230.10" y="442.20" font-size="11.8" text-anchor="middle" fill="#222">0.88</text>
<line x1="60.50" y1="446.80" x2="269.70" y2="446.80" stroke="#6e6e6e" stroke-width="1.1"/>
<text stroke="#e99a3c" stroke-width="0.28" x="83.60" y="459.00" font-size="11.8" text-anchor="middle" fill="#e99a3c">2018</text>
<text stroke="#222" stroke-width="0.28" x="149.10" y="459.00" font-size="11.8" text-anchor="middle" fill="#222">0.45</text>
<text stroke="#222" stroke-width="0.28" x="230.10" y="459.00" font-size="11.8" text-anchor="middle" fill="#222">0.88</text>
<line x1="60.50" y1="463.00" x2="269.70" y2="463.00" stroke="#6e6e6e" stroke-width="1.1"/>
<text stroke="#45b0da" stroke-width="0.28" x="83.60" y="475.20" font-size="11.8" text-anchor="middle" fill="#45b0da">2019</text>
<text stroke="#222" stroke-width="0.28" x="149.10" y="475.20" font-size="11.8" text-anchor="middle" fill="#222">0.42</text>
<text stroke="#222" stroke-width="0.28" x="230.10" y="475.20" font-size="11.8" text-anchor="middle" fill="#222">0.82</text>
<line x1="60.50" y1="479.60" x2="269.70" y2="479.60" stroke="#6e6e6e" stroke-width="1.1"/>
<text stroke="#b3173c" stroke-width="0.28" x="83.60" y="491.80" font-size="11.8" text-anchor="middle" fill="#b3173c">2020</text>
<text stroke="#222" stroke-width="0.28" x="149.10" y="491.80" font-size="11.8" text-anchor="middle" fill="#222">0.55</text>
<text stroke="#222" stroke-width="0.28" x="230.10" y="491.80" font-size="11.8" text-anchor="middle" fill="#222">0.97</text>
<line x1="60.50" y1="496.10" x2="269.70" y2="496.10" stroke="#6e6e6e" stroke-width="1.1"/>
<text stroke="#3e9b4b" stroke-width="0.28" x="83.60" y="508.30" font-size="11.8" text-anchor="middle" fill="#3e9b4b">2021</text>
<text stroke="#222" stroke-width="0.28" x="149.10" y="508.30" font-size="11.8" text-anchor="middle" fill="#222">0.42</text>
<text stroke="#222" stroke-width="0.28" x="230.10" y="508.30" font-size="11.8" text-anchor="middle" fill="#222">0.82</text>
<line x1="60.50" y1="512.40" x2="269.70" y2="512.40" stroke="#6e6e6e" stroke-width="1.1"/>
<text stroke="#8c8cb9" stroke-width="0.28" x="83.60" y="524.60" font-size="11.8" text-anchor="middle" fill="#8c8cb9">2022</text>
<text stroke="#222" stroke-width="0.28" x="149.10" y="524.60" font-size="11.8" text-anchor="middle" fill="#222">0.41</text>
<text stroke="#222" stroke-width="0.28" x="230.10" y="524.60" font-size="11.8" text-anchor="middle" fill="#222">0.83</text>
<line x1="60.50" y1="528.90" x2="269.70" y2="528.90" stroke="#111" stroke-width="1.5"/>
<line x1="464.8" y1="522.50" x2="478.9" y2="522.50" stroke="#1f4470" stroke-width="2.0" />
<text stroke="#222" stroke-width="0.28" x="483.6" y="526.30" font-size="11.3" fill="#222">2017</text>
<line x1="464.7" y1="540.20" x2="479.3" y2="540.20" stroke="#d1952f" stroke-width="1.8" stroke-dasharray="3.5 2.8"/>
<text stroke="#222" stroke-width="0.28" x="483.6" y="544.00" font-size="11.3" fill="#222">2018</text>
<line x1="464.8" y1="557.90" x2="474.5" y2="557.90" stroke="#1f93b8" stroke-width="2.0" />
<text stroke="#222" stroke-width="0.28" x="483.6" y="561.70" font-size="11.3" fill="#222">2019</text>
<line x1="464.8" y1="575.60" x2="474.5" y2="575.60" stroke="#9a1634" stroke-width="2.0" />
<text stroke="#222" stroke-width="0.28" x="483.6" y="579.40" font-size="11.3" fill="#222">2020</text>
<line x1="464.9" y1="593.30" x2="477" y2="593.30" stroke="#3f7a4a" stroke-width="2.0" stroke-dasharray="2.4 2.1"/>
<text stroke="#222" stroke-width="0.28" x="483.6" y="597.10" font-size="11.3" fill="#222">2021</text>
<line x1="464.9" y1="611.00" x2="477" y2="611.00" stroke="#5a5a8a" stroke-width="1.6" stroke-dasharray="2.4 2.1"/>
<text stroke="#222" stroke-width="0.28" x="483.6" y="614.80" font-size="11.3" fill="#222">2022</text>
<rect x="0.5" y="0.5" width="519" height="768" fill="none" stroke="#252525" stroke-width="1"/>
</svg>
</body></html>
